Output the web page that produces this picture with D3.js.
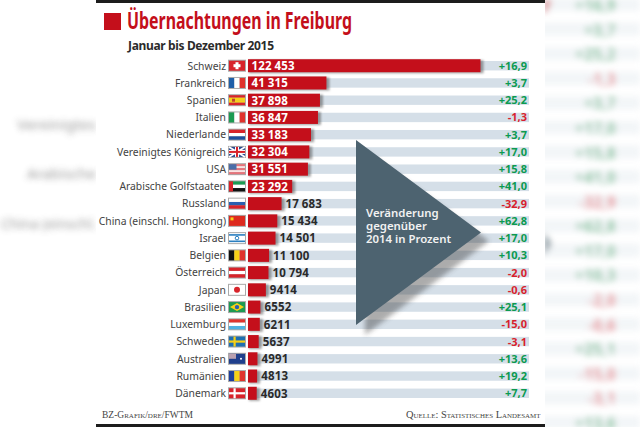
<!DOCTYPE html>
<html><head><meta charset="utf-8">
<script src="https://cdnjs.cloudflare.com/ajax/libs/d3/7.8.5/d3.min.js"></script>
<style>html,body{margin:0;padding:0;background:#fff}svg{display:block}text{font-family:"Noto Sans",Lato,sans-serif}</style>
</head><body><svg id="c" width="640" height="427"></svg>
<script>
const countries=["Schweiz","Frankreich","Spanien","Italien","Niederlande","Vereinigtes Königreich","USA","Arabische Golfstaaten","Russland","China (einschl. Hongkong)","Israel","Belgien","Österreich","Japan","Brasilien","Luxemburg","Schweden","Australien","Rumänien","Dänemark"];
const nights=[122453,41315,37898,36847,33183,32304,31551,23292,17683,15434,14501,11100,10794,9414,6552,6211,5637,4991,4813,4603];
const changes=[16.9,3.7,25.2,-1.3,3.7,17.0,15.8,41.0,-32.9,62.8,17.0,10.3,-2.0,-0.6,25.1,-15.0,-3.1,13.6,19.2,7.7];
const flagCodes=["ch","fr","es","it","nl","gb","us","ae","ru","cn","il","be","at","jp","br","lu","se","au","ro","dk"];
const title="Übernachtungen in Freiburg", subtitle="Januar bis Dezember 2015";
const note=["Veränderung","gegenüber","2014 in Prozent"];
const creditLeft="BZ-Grafik/dre/FWTM", creditRight="Quelle: Statistisches Landesamt";
const blurredLabels=["Vereinigtes","Arabische","China (einschl."];

const svg=d3.select("#c");
const defs=svg.append("defs");
const blur=(id,s)=>defs.append("filter").attr("id",id).attr("filterUnits","userSpaceOnUse").attr("x",-20).attr("y",-20).attr("width",680).attr("height",470).append("feGaussianBlur").attr("stdDeviation",s);
blur("bg",3.4);blur("sh",1.2);blur("sh2",2.5);

const fmt=v=>{const s=String(v);return v>=10000?s.slice(0,-3)+" "+s.slice(-3):s;};
const fmtC=v=>(v>0?"+":"-")+Math.abs(v).toFixed(1).replace(".",",");
const GREEN="#0b9a50",RED="#d81f2e",BAR="#c40f1b",STRIPE="#d5dfe8";

// blurred backdrop
const bgL=svg.append("g").attr("filter","url(#bg)").attr("opacity",.6);
const bgR=svg.append("g").attr("filter","url(#bg)").attr("opacity",.6);
const yBg=d3.scaleLinear().domain([0,17]).range([5,423]);
bgR.selectAll("rect.s").data(changes.slice(0,18)).join("rect").attr("x",536).attr("width",104)
  .attr("y",(d,i)=>yBg(i)-7).attr("height",13).attr("fill",STRIPE).attr("opacity",.5);
bgR.selectAll("text").data(changes.slice(0,18)).join("text").attr("x",616).attr("y",(d,i)=>yBg(i)+6)
  .attr("text-anchor","end").attr("font-size",16).attr("font-weight",700)
  .attr("fill",d=>d>0?GREEN:RED).text(fmtC);
bgL.selectAll("text").data(blurredLabels).join("text").attr("x",96).attr("y",(d,i)=>[130,179,229][i])
  .attr("text-anchor","end").attr("font-size",(d,i)=>i==2?14:15).attr("fill","#555").text(d=>d);
bgR.append("path").attr("d","M544,0H552L546,13H544Z").attr("fill",BAR);
bgR.append("path").attr("d","M544,232L552,244L544,256Z").attr("fill","#4c6370");

// panel
svg.append("rect").attr("x",96).attr("y",0).attr("width",449).attr("height",427).attr("fill","#fff");
svg.append("rect").attr("x",96).attr("y",0).attr("width",449).attr("height",3).attr("fill","#1c1c1c");
svg.append("rect").attr("x",96).attr("y",424).attr("width",449).attr("height",3).attr("fill","#1c1c1c");

svg.append("rect").attr("x",104).attr("y",13).attr("width",17).attr("height",17).attr("fill",BAR);
svg.append("text").attr("x",127).attr("y",29).attr("font-size",23).attr("font-weight",700).attr("fill",BAR)
  .attr("textLength",225).attr("lengthAdjust","spacingAndGlyphs").text(title);
svg.append("text").attr("x",128).attr("y",50).attr("font-size",12).attr("font-weight",700).attr("fill","#2b2b2b")
  .attr("textLength",146).attr("lengthAdjust","spacing").text(subtitle);

const y=d3.scaleBand().domain(d3.range(countries.length)).range([57.1,401.9]);
const cy=i=>y(i)+y.bandwidth()/2;
const x=d3.scaleLinear().domain([0,122453]).range([248,480.5]);

svg.selectAll("rect.stripe").data(nights).join("rect").attr("class","stripe").attr("x",248).attr("width",281)
  .attr("y",(d,i)=>cy(i)-4.7).attr("height",9.4).attr("fill",STRIPE);

// triangle
const tri=svg.append("g");
tri.append("path").attr("d","M361,146L485,236L361,330Z").attr("fill","#333").attr("opacity",.4).attr("filter","url(#sh2)").attr("transform","translate(4,5)");
tri.append("path").attr("d","M356,140L481,232.5L356,325Z").attr("fill","#4d6370");
tri.selectAll("text").data(note).join("text").attr("x",366).attr("y",(d,i)=>217+i*13)
  .attr("font-size",11.4).attr("font-weight",600).attr("fill","#f2f2f2").text(d=>d);

// bars
svg.selectAll("rect.sh").data(nights).join("rect").attr("class","sh").attr("x",249).attr("width",d=>x(d)-248+2)
  .attr("y",(d,i)=>cy(i)-5.5).attr("height",13).attr("fill","#555").attr("opacity",.55).attr("filter","url(#sh)");
svg.selectAll("rect.bar").data(nights).join("rect").attr("class","bar").attr("x",248).attr("width",d=>x(d)-248)
  .attr("y",(d,i)=>cy(i)-6.5).attr("height",13).attr("fill",BAR);

// values
svg.selectAll("text.val").data(nights).join("text").attr("class","val")
  .attr("x",(d,i)=>i<8?251.5:x(d)+4).attr("y",(d,i)=>cy(i)+4.3)
  .attr("font-size",11.5).attr("font-weight",700).attr("letter-spacing",.2).attr("word-spacing",-.5)
  .attr("fill",(d,i)=>i<8?"#fff":"#2a2a2a").text(fmt);

// labels
svg.selectAll("text.lab").data(countries).join("text").attr("class","lab").attr("x",226).attr("y",(d,i)=>cy(i)+3.8)
  .attr("text-anchor","end").attr("font-size",10.35).attr("fill","#444").text(d=>d);

// changes
svg.selectAll("text.chg").data(changes).join("text").attr("class","chg").attr("x",527).attr("y",(d,i)=>cy(i)+4)
  .attr("text-anchor","end").attr("font-size",11).attr("font-weight",700)
  .attr("fill",d=>d>0?GREEN:RED).text(fmtC);

// flags
const FX=229,FW=16,FH=10;
const drawFlag={
 v:(g,c)=>c.forEach((k,i)=>g.append("rect").attr("x",i*FW/c.length).attr("width",FW/c.length).attr("height",FH).attr("fill",k)),
 h:(g,c)=>c.forEach((k,i)=>g.append("rect").attr("y",i*FH/c.length).attr("height",FH/c.length).attr("width",FW).attr("fill",k)),
 nord:(g,b,c)=>{g.append("rect").attr("width",FW).attr("height",FH).attr("fill",b);g.append("rect").attr("x",4.5).attr("width",2.2).attr("height",FH).attr("fill",c);g.append("rect").attr("y",3.9).attr("width",FW).attr("height",2.2).attr("fill",c);}
};
const painters={
 ch:g=>{drawFlag.h(g,["#d8232a"]);g.append("rect").attr("x",6.5).attr("y",1.5).attr("width",3).attr("height",7).attr("fill","#fff");g.append("rect").attr("x",4.5).attr("y",3.5).attr("width",7).attr("height",3).attr("fill","#fff");},
 fr:g=>drawFlag.v(g,["#1f5fa8","#fff","#e0332d"]),
 es:g=>{drawFlag.h(g,["#d8232a","#f7d117","#f7d117","#d8232a"]);g.append("rect").attr("x",3).attr("y",3.5).attr("width",3).attr("height",3).attr("fill","#c0452a");},
 it:g=>drawFlag.v(g,["#1c9a52","#fff","#e0332d"]),
 nl:g=>drawFlag.h(g,["#d8232a","#fff","#1f4f9c"]),
 gb:g=>{drawFlag.h(g,["#2a4a90"]);g.append("path").attr("d",`M0,0L${FW},${FH}M${FW},0L0,${FH}`).attr("stroke","#fff").attr("stroke-width",1.8);g.append("rect").attr("x",6).attr("width",4).attr("height",FH).attr("fill","#fff");g.append("rect").attr("y",3).attr("width",FW).attr("height",4).attr("fill","#fff");g.append("rect").attr("x",7).attr("width",2).attr("height",FH).attr("fill","#d8232a");g.append("rect").attr("y",4).attr("width",FW).attr("height",2).attr("fill","#d8232a");},
 us:g=>{drawFlag.h(g,["#e8737a","#fbe3e3","#e8737a","#fbe3e3","#e8737a"]);g.append("rect").attr("width",7.5).attr("height",5.5).attr("fill","#4a6ea8");},
 ae:g=>{drawFlag.h(g,["#1c9a52","#fff","#111"]);g.append("rect").attr("width",4).attr("height",FH).attr("fill","#d8232a");},
 ru:g=>drawFlag.h(g,["#fff","#2a5fb0","#d8232a"]),
 cn:g=>{drawFlag.h(g,["#dd2a1f"]);g.append("rect").attr("x",1.5).attr("y",1.5).attr("width",3).attr("height",3).attr("fill","#f7d117");},
 il:g=>{drawFlag.h(g,["#fff"]);g.append("rect").attr("y",1).attr("width",FW).attr("height",1.6).attr("fill","#2a7fc0");g.append("rect").attr("y",7.4).attr("width",FW).attr("height",1.6).attr("fill","#2a7fc0");g.append("circle").attr("cx",8).attr("cy",5).attr("r",1.8).attr("fill","none").attr("stroke","#2a7fc0");},
 be:g=>drawFlag.v(g,["#111","#f7d117","#e0332d"]),
 at:g=>drawFlag.h(g,["#d8232a","#fff","#d8232a"]),
 jp:g=>{drawFlag.h(g,["#fff"]);g.append("circle").attr("cx",8).attr("cy",5).attr("r",3).attr("fill","#d8232a");},
 br:g=>{drawFlag.h(g,["#1c9a52"]);g.append("path").attr("d","M8,1L15,5L8,9L1,5Z").attr("fill","#f7d117");g.append("circle").attr("cx",8).attr("cy",5).attr("r",2.2).attr("fill","#2a5fb0");},
 lu:g=>drawFlag.h(g,["#e0332d","#fff","#4fb0e0"]),
 se:g=>drawFlag.nord(g,"#1f6fb0","#f7d117"),
 au:g=>{drawFlag.h(g,["#1f3f8c"]);g.append("rect").attr("width",7).attr("height",5).attr("fill","#b9a0b0");g.append("circle").attr("cx",12).attr("cy",5).attr("r",1).attr("fill","#fff");},
 ro:g=>drawFlag.v(g,["#1f3f9c","#f7d117","#e0332d"]),
 dk:g=>drawFlag.nord(g,"#d8232a","#fff")
};
flagCodes.forEach((c,i)=>{
 const g=svg.append("g").attr("transform",`translate(${FX},${cy(i)-FH/2})`);
 g.append("rect").attr("x",-1).attr("y",-1).attr("width",FW+2).attr("height",FH+2).attr("fill","#aaa");
 painters[c](g);
});

// credits
svg.append("text").attr("x",102).attr("y",418).attr("font-size",9.5).attr("style","font-family:'Liberation Serif',serif;font-variant:small-caps").attr("fill","#444")
  .attr("textLength",91).attr("lengthAdjust","spacingAndGlyphs").text(creditLeft);
svg.append("text").attr("x",406).attr("y",418).attr("font-size",10.5).attr("style","font-family:'Liberation Serif',serif;font-variant:small-caps").attr("fill","#444")
  .attr("textLength",134.5).attr("lengthAdjust","spacingAndGlyphs").text(creditRight);
</script></body></html>
